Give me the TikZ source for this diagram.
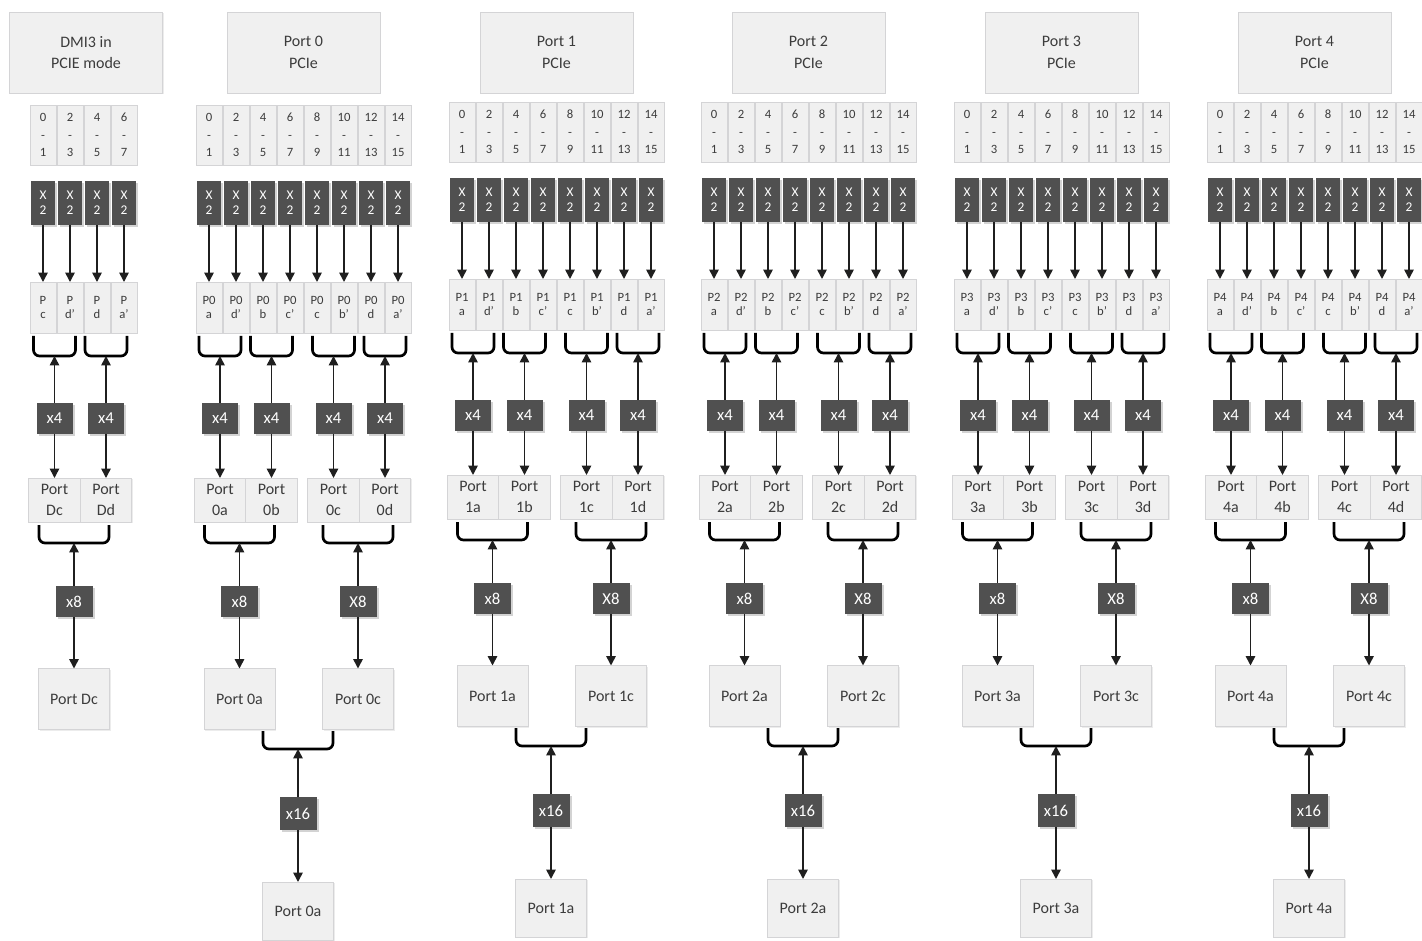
\documentclass[tikz,border=0pt]{standalone}
\usepackage{fontspec}
\setmainfont{Carlito}
\usetikzlibrary{arrows.meta,shadows}
\definecolor{boxFill}{RGB}{240,240,240}
\definecolor{boxLine}{RGB}{212,212,214}
\definecolor{boxText}{RGB}{60,60,60}
\definecolor{darkFill}{RGB}{80,80,80}

\begin{document}
\begin{tikzpicture}[x=0.75pt, y=-0.75pt,
    box/.style={rectangle, draw=boxLine, fill=boxFill, text=boxText, align=center,
                inner sep=0pt, outer sep=0pt, line width=0.6pt,
                drop shadow={opacity=0.15, shadow xshift=0.8pt, shadow yshift=-1pt}},
    dark/.style={rectangle, fill=darkFill, text=white, align=center,
                 inner sep=0pt, outer sep=0pt,
                 drop shadow={opacity=0.35, shadow xshift=1.5pt, shadow yshift=-1.5pt}},
    head/.style={box, minimum width=114.75pt, minimum height=60.75pt,
                 font=\fontsize{12}{16}\selectfont},
    lane/.style={box, minimum width=19.5pt, minimum height=45pt,
                 font=\fontsize{9.5}{13}\selectfont},
    xtwo/.style={dark, minimum width=18pt, minimum height=33pt,
                 font=\fontsize{10}{11.5}\selectfont},
    plane/.style={box, minimum width=19.5pt, minimum height=38.25pt,
                  font=\fontsize{9.5}{10.5}\selectfont},
    xfour/.style={dark, minimum width=27pt, minimum height=23.25pt,
                  font=\fontsize{12.5}{14}\selectfont},
    half/.style={box, minimum width=38.6pt, minimum height=33pt,
                 font=\fontsize{12}{16}\selectfont},
    xeight/.style={xfour, minimum width=27.75pt},
    port/.style={box, minimum width=53.25pt, minimum height=45.75pt,
                 font=\fontsize{12}{14}\selectfont},
    xsixteen/.style={xfour, minimum width=27.75pt, minimum height=24.75pt},
    arr/.style={-{Triangle[length=7pt, width=7pt]}, line width=1.2pt, black!88},
    brk/.style={line width=2pt, black, rounded corners=4.5pt}
  ]
  \useasboundingbox (0,0) rectangle (1422,941);

  % DMI3 column
  \node[head] (head-d) at (86,52.5) {DMI3 in\\PCIE mode};
  \foreach \k in {0,...,3} {
    \pgfmathtruncatemacro\lo{2*\k}
    \pgfmathtruncatemacro\hi{2*\k+1}
    \node[lane] (lane-d-\k) at (43+27*\k,135) {\lo\\-\\\hi};
    \node[xtwo] (xtwo-d-\k) at (43+27*\k,203) {X\\2};
  }
  \foreach \k/\s in {0/c,1/d',2/d,3/a'} {
    \node[plane] (pl-d-\k) at (43+27*\k,307.5) {P\\\s};
    \draw[arr] (xtwo-d-\k) -- (pl-d-\k);
  }
  \foreach \j/\cx/\s in {0/54.5/c,1/106/d} {
    \coordinate (pb-d-\j) at (\cx,356);
    \draw[brk] (pb-d-\j) ++(-21,-20) -- ++(0,20) -- ++(42,0) -- ++(0,-20);
    \node[xfour] (xf-d-\j) at (\cx,418.5) {x4};
    \node[half] (pp-d-\j) at (\cx,500) {Port\\D\s};
    \draw[arr] (xf-d-\j) -- (pb-d-\j);
    \draw[arr] (xf-d-\j) -- (pp-d-\j);
  }
  \coordinate (qb-d) at (74,543);
  \draw[brk] (qb-d) ++(-35,-18) -- ++(0,18) -- ++(70,0) -- ++(0,-18);
  \node[xeight] (xe-d) at (74,601.5) {x8};
  \node[port] (pt-d) at (74,699) {Port Dc};
  \draw[arr] (xe-d) -- (qb-d);
  \draw[arr] (xe-d) -- (pt-d);

  % PCIe port columns
  \foreach \p/\lx/\dy in {0/196/0pt, 1/449/2.25pt, 2/701/2.25pt, 3/954/2.25pt, 4/1207/2.25pt} {
    \node[head] (head-\p) at (\lx+107.5,52.5) {Port \p\\PCIe};
    \begin{scope}[yshift=\dy]
    \foreach \k in {0,...,7} {
      \pgfmathtruncatemacro\lo{2*\k}
      \pgfmathtruncatemacro\hi{2*\k+1}
      \node[lane] (lane-\p-\k) at (\lx+27*\k+13,135) {\lo\\-\\\hi};
      \node[xtwo] (xtwo-\p-\k) at (\lx+27*\k+13,203) {X\\2};
    }
    \foreach \k/\s in {0/a,1/d',2/b,3/c',4/c,5/b',6/d,7/a'} {
      \node[plane] (pl-\p-\k) at (\lx+27*\k+13,307.5) {P\p\\\s};
      \draw[arr] (xtwo-\p-\k) -- (pl-\p-\k);
    }
    \foreach \j/\cx/\s in {0/24/a,1/75.5/b,2/137.5/c,3/189/d} {
      \coordinate (pb-\p-\j) at (\lx+\cx,356);
      \draw[brk] (pb-\p-\j) ++(-21,-20) -- ++(0,20) -- ++(42,0) -- ++(0,-20);
      \node[xfour] (xf-\p-\j) at (\lx+\cx,418.5) {x4};
      \node[half] (pp-\p-\j) at (\lx+\cx,500) {Port\\\p\s};
      \draw[arr] (xf-\p-\j) -- (pb-\p-\j);
      \draw[arr] (xf-\p-\j) -- (pp-\p-\j);
    }
    \foreach \m/\cx/\xl/\s in {0/43.5/x/a,1/162/X/c} {
      \coordinate (qb-\p-\m) at (\lx+\cx,543);
      \draw[brk] (qb-\p-\m) ++(-35,-18) -- ++(0,18) -- ++(70,0) -- ++(0,-18);
      \node[xeight] (xe-\p-\m) at (\lx+\cx,601.5) {\xl8};
      \node[port] (pt-\p-\m) at (\lx+\cx,699) {Port \p\s};
      \draw[arr] (xe-\p-\m) -- (qb-\p-\m);
      \draw[arr] (xe-\p-\m) -- (pt-\p-\m);
    }
    \coordinate (rb-\p) at (\lx+102,749);
    \draw[brk] (rb-\p) ++(-35,-18) -- ++(0,18) -- ++(70,0) -- ++(0,-18);
    \node[xsixteen] (xs-\p) at (\lx+102,813.5) {x16};
    \node[port, minimum height=43.5pt] (pf-\p) at (\lx+102,911) {Port \p a};
    \draw[arr] (xs-\p) -- (rb-\p);
    \draw[arr] (xs-\p) -- (pf-\p);
    \end{scope}
  }
\end{tikzpicture}
\end{document}
